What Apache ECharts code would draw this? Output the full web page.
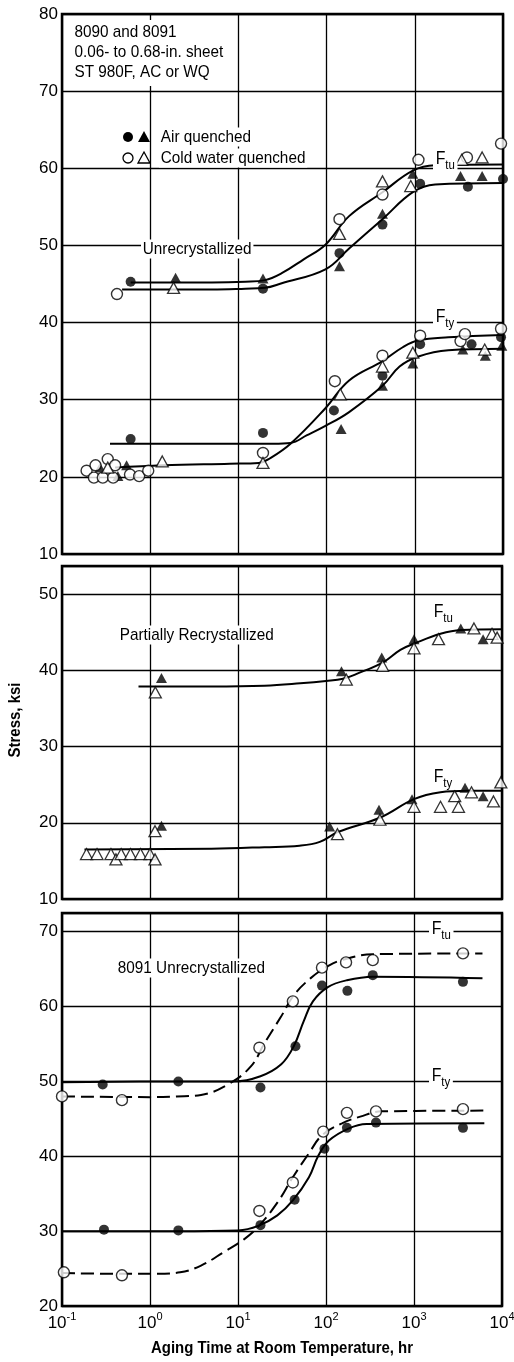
<!DOCTYPE html>
<html>
<head>
<meta charset="utf-8">
<title>8090/8091 natural aging</title>
<script src="https://cdn.jsdelivr.net/npm/echarts@6/dist/echarts.min.js"></script>
<style>
  html, body { margin: 0; padding: 0; background: #fff; }
  #chart { width: 514px; height: 1362px; }
</style>
</head>
<body>
<div id="chart"></div>
<script>
// ---- Data: aging time (hr) vs. stress (ksi) ----

// Panel A: 8090/8091 unrecrystallized sheet
const unrecFtuAirCircle   = [[0.6,45.3],[19,44.4],[140,49.0],[430,52.7],[1150,58.0],[4000,57.6],[10000,58.6]];
const unrecFtuAirTri      = [[1.94,45.8],[19,45.7],[140,47.3],[430,54.1],[950,59.3],[3300,59.0],[5800,59.0]];
const unrecFtuWaterCircle = [[0.42,43.7],[140,53.4],[430,56.6],[1100,61.1],[3900,61.4],[9500,63.2]];
const unrecFtuWaterTri    = [[1.84,44.5],[140,51.5],[430,58.3],[900,57.7],[3400,61.1],[5800,61.4]];
const unrecFtuCurveHigh   = [[0.6,45.2],[5,45.2],[12,45.3],[20,45.5],[31,46.4],[55,48.2],[97,50.1],[180,53.8],[430,56.9],[950,59.7],[1700,60.4],[10000,60.5]];
const unrecFtuCurveLow    = [[0.48,44.3],[5,44.3],[12,44.4],[20,44.5],[31,45.1],[97,46.9],[180,49.6],[430,53.4],[950,56.9],[1700,57.9],[10000,58.1]];

const unrecFtyAirCircle   = [[0.6,24.9],[19,25.7],[121,28.6],[430,33.1],[1150,37.2],[4400,37.2],[9500,38.1]];
const unrecFtyAirTri      = [[0.27,21.2],[0.43,20.1],[0.54,21.5],[146,26.2],[430,31.8],[950,34.7],[3500,36.5],[6300,35.7],[9700,37.0]];
const unrecFtyWaterCircle = [[0.19,20.8],[0.23,19.9],[0.24,21.5],[0.29,19.9],[0.33,22.3],[0.38,19.9],[0.4,21.5],[0.59,20.3],[0.75,20.1],[0.95,20.8],[19,23.1],[124,32.4],[430,35.7],[1150,38.3],[3300,37.6],[3700,38.5],[9500,39.2]];
const unrecFtyWaterTri    = [[0.33,21.2],[1.37,22.0],[19,21.8],[143,30.7],[430,34.3],[950,36.1],[6200,36.5]];
const unrecFtyCurveAir    = [[0.35,24.3],[10,24.3],[25,24.3],[39,24.4],[60,25.4],[97,26.6],[180,28.4],[430,31.8],[672,34.3],[1100,35.6],[2400,36.4],[10000,36.6]];
const unrecFtyCurveWater  = [[0.4,21.2],[1.4,21.5],[8,21.7],[17,21.8],[22,22.3],[39,24.3],[97,28.9],[180,32.5],[430,35.0],[730,36.8],[1100,37.7],[2400,38.1],[10000,38.4]];

// Panel B: partially recrystallized
const partFtuAirTri       = [[1.35,39.0],[150,39.9],[430,41.7],[1000,44.1],[3400,45.5],[6100,44.1]];
const partFtuWaterTri     = [[1.15,37.1],[170,38.8],[440,40.6],[1000,42.9],[1900,44.1],[4800,45.5],[7700,44.8],[8800,44.3]];
const partFtuCurve        = [[0.74,37.9],[5,37.9],[20,38.0],[51,38.3],[100,38.6],[156,38.9],[230,39.6],[450,41.1],[700,42.7],[1000,43.5],[2000,44.8],[3400,45.3],[10000,45.4]];
const partFtyAirTri       = [[1.35,19.6],[110,19.5],[400,21.7],[950,23.1],[3800,24.6],[6100,23.5]];
const partFtyWaterTri     = [[0.19,15.9],[0.25,15.9],[0.36,15.9],[0.41,15.2],[0.47,15.9],[0.6,15.9],[0.78,15.9],[1.0,15.9],[1.14,15.2],[1.14,18.9],[135,18.5],[410,20.4],[1000,22.1],[2000,22.1],[2900,23.5],[3200,22.1],[4500,24.0],[8000,22.8],[9700,25.3]];
const partFtyCurve        = [[0.18,16.5],[5,16.6],[20,16.8],[50,17.0],[85,17.5],[137,18.8],[416,20.7],[1000,23.1],[2000,24.0],[4000,24.2],[10000,24.2]];

// Panel C: 8091 unrecrystallized
const u8091FtuAir         = [[0.29,49.6],[2.1,50.0],[18,49.2],[45,54.7],[90,62.8],[175,62.1],[340,64.2],[3600,63.3]];
const u8091FtuWater       = [[0.1,48.0],[0.48,47.5],[17.5,54.5],[42,60.7],[90,65.2],[169,65.9],[340,66.2],[3600,67.1]];
const u8091FtyAir         = [[0.3,30.2],[2.1,30.1],[18,30.8],[44,34.2],[96,41.0],[173,43.8],[370,44.5],[3600,43.8]];
const u8091FtyWater       = [[0.105,24.5],[0.48,24.1],[17.5,32.7],[42,36.5],[93,43.3],[173,45.8],[370,46.0],[3600,46.3]];
const u8091FtuCurveAir    = [[0.1,49.9],[2,50.0],[9,50.0],[18,50.7],[31,52.3],[43,54.7],[56,58.1],[71,60.7],[105,62.6],[170,63.5],[340,64.0],[6000,63.8]];
const u8091FtuCurveWater  = [[0.1,48.0],[1,47.9],[2,48.0],[3.8,48.2],[7.7,49.6],[14,52.0],[20,55.1],[31,58.7],[43,61.5],[67,63.8],[105,65.4],[150,66.2],[340,67.0],[6000,67.1]];
const u8091FtyCurveAir    = [[0.1,30.0],[2,30.0],[10,30.1],[17,30.7],[28,32.1],[42,34.1],[64,37.2],[82,40.1],[108,42.1],[180,43.7],[290,44.3],[6300,44.4]];
const u8091FtyCurveWater  = [[0.1,24.4],[0.5,24.3],[1.2,24.3],[2.2,24.5],[3.8,25.4],[6.9,27.2],[11.7,28.9],[17,30.6],[28,33.8],[42,37.2],[64,40.4],[90,42.8],[152,44.4],[245,45.3],[430,46.0],[6300,46.1]];

// Axis ranges
const timeRange = [0.1, 10000];
const stressRanges = [[10, 80], [10, 53.7], [20, 72.5]];

// ---- Styling ----
const SANS = '"Liberation Sans",Arial,Helvetica,sans-serif';
const SQUEEZE = 0.9;   // condensed look for annotation text
const INK = '#000';

const MARKS = {
  airCircle:   { symbol: 'circle',   symbolSize: 10, itemStyle: { color: INK } },
  waterCircle: { symbol: 'circle',   symbolSize: 11, itemStyle: { color: '#fff', borderColor: INK, borderWidth: 1.4 } },
  airTri:      { symbol: 'triangle', symbolSize: [11, 10], itemStyle: { color: INK } },
  waterTri:    { symbol: 'triangle', symbolSize: [12, 11], itemStyle: { color: '#fff', borderColor: INK, borderWidth: 1.3 } }
};

function points(gridIndex, data, kind) {
  return Object.assign({
    type: 'scatter', xAxisIndex: gridIndex, yAxisIndex: gridIndex,
    data: data, z: 5, clip: false, silent: true
  }, JSON.parse(JSON.stringify(MARKS[kind])));
}

function curve(gridIndex, data, dashed) {
  return {
    type: 'line', xAxisIndex: gridIndex, yAxisIndex: gridIndex,
    data: data, smooth: 0.4, showSymbol: false, z: 3, silent: true,
    lineStyle: { color: INK, width: 2, type: dashed ? [13, 6] : 'solid' }
  };
}

const gridBoxes = [
  { left: 62, top: 14,  width: 441, height: 540 },
  { left: 62, top: 566, width: 440, height: 333 },
  { left: 62, top: 913, width: 440, height: 393 }
];

const chart = echarts.init(document.getElementById('chart'), null, { renderer: 'canvas' });

const option = {
  backgroundColor: '#fff',
  animation: false,
  grid: gridBoxes.map(g => Object.assign({
    show: true, borderColor: INK, borderWidth: 2.5, backgroundColor: 'transparent',
    containLabel: false, outerBoundsMode: 'none'
  }, g)),
  xAxis: [0, 1, 2].map(i => ({
    type: 'log', logBase: 10, gridIndex: i,
    min: timeRange[0], max: timeRange[1],
    axisLine: { show: false }, axisTick: { show: false },
    splitLine: { show: true, lineStyle: { color: INK, width: 1.3 } },
    axisLabel: {
      show: i === 2, margin: 5, color: INK,
      formatter: v => '{b|10}{e|' + Math.round(Math.log10(v)) + '}',
      rich: {
        b: { fontFamily: SANS, fontSize: 17, color: INK, lineHeight: 21, verticalAlign: 'bottom' },
        e: { fontFamily: SANS, fontSize: 11, color: INK, lineHeight: 11, verticalAlign: 'top' }
      }
    }
  })),
  yAxis: [0, 1, 2].map(i => ({
    type: 'value', gridIndex: i,
    min: stressRanges[i][0], max: stressRanges[i][1], interval: 10,
    axisLine: { show: false }, axisTick: { show: false },
    splitLine: { show: true, lineStyle: { color: INK, width: 1.3 } },
    axisLabel: {
      margin: 4, color: INK, fontFamily: SANS, fontSize: 17,
      formatter: v => (Math.abs(v % 10) < 1e-6 ? String(v) : '')
    }
  })),
  series: [
    // Panel A
    curve(0, unrecFtuCurveHigh), curve(0, unrecFtuCurveLow),
    curve(0, unrecFtyCurveAir), curve(0, unrecFtyCurveWater),
    points(0, unrecFtuAirCircle, 'airCircle'), points(0, unrecFtuAirTri, 'airTri'),
    points(0, unrecFtuWaterCircle, 'waterCircle'), points(0, unrecFtuWaterTri, 'waterTri'),
    points(0, unrecFtyAirCircle, 'airCircle'), points(0, unrecFtyAirTri, 'airTri'),
    points(0, unrecFtyWaterCircle, 'waterCircle'), points(0, unrecFtyWaterTri, 'waterTri'),
    // Panel B
    curve(1, partFtuCurve), curve(1, partFtyCurve),
    points(1, partFtuAirTri, 'airTri'), points(1, partFtuWaterTri, 'waterTri'),
    points(1, partFtyAirTri, 'airTri'), points(1, partFtyWaterTri, 'waterTri'),
    // Panel C
    curve(2, u8091FtuCurveAir), curve(2, u8091FtuCurveWater, true),
    curve(2, u8091FtyCurveAir), curve(2, u8091FtyCurveWater, true),
    points(2, u8091FtuAir, 'airCircle'), points(2, u8091FtuWater, 'waterCircle'),
    points(2, u8091FtyAir, 'airCircle'), points(2, u8091FtyWater, 'waterCircle')
  ],
  graphic: buildAnnotations()
};

function label(x, y, text, extra) {
  return {
    type: 'text', x: x, y: y, z: 100, silent: true, scaleX: SQUEEZE,
    style: Object.assign({
      text: text, font: '17px ' + SANS, fill: INK,
      align: 'left', verticalAlign: 'middle',
      backgroundColor: '#fff', padding: [1, 2]
    }, extra || {})
  };
}

function strengthTag(x, y, sub) {
  return {
    type: 'text', x: x, y: y, z: 100, silent: true, scaleX: 0.88,
    style: {
      text: '{f|F}{s|' + sub + '}',
      backgroundColor: '#fff', padding: [0, 3],
      rich: {
        f: { fontFamily: SANS, fontSize: 18, color: INK, lineHeight: 22, verticalAlign: 'top' },
        s: { fontFamily: SANS, fontSize: 13, color: INK, lineHeight: 13, verticalAlign: 'bottom' }
      }
    }
  };
}

function buildAnnotations() {
  const els = [];
  // Specimen description block
  els.push({
    type: 'text', x: 70, y: 20, z: 100, silent: true, scaleX: SQUEEZE,
    style: {
      text: '8090 and 8091\n0.06- to 0.68-in. sheet\nST 980F, AC or WQ',
      font: '17px ' + SANS, fill: INK, lineHeight: 20,
      align: 'left', verticalAlign: 'top',
      backgroundColor: '#fff', padding: [2, 5, 4, 5]
    }
  });
  // Key
  els.push({ type: 'circle', z: 101, silent: true, shape: { cx: 128, cy: 137, r: 5 }, style: { fill: INK } });
  els.push({ type: 'polygon', z: 101, silent: true, shape: { points: [[144, 131], [150, 142], [138, 142]] }, style: { fill: INK } });
  els.push({ type: 'circle', z: 101, silent: true, shape: { cx: 128, cy: 158, r: 5 }, style: { fill: '#fff', stroke: INK, lineWidth: 1.3 } });
  els.push({ type: 'polygon', z: 101, silent: true, shape: { points: [[144, 152], [150, 163], [138, 163]] }, style: { fill: '#fff', stroke: INK, lineWidth: 1.3 } });
  els.push(label(159, 137, 'Air quenched'));
  els.push(label(159, 158, 'Cold water quenched'));
  // Panel titles
  els.push(label(141, 249, 'Unrecrystallized'));
  els.push(label(118, 635, 'Partially Recrystallized'));
  els.push(label(116, 968, '8091 Unrecrystallized'));
  // Strength tags
  els.push(strengthTag(433, 150, 'tu'));
  els.push(strengthTag(433, 308, 'ty'));
  els.push(strengthTag(431, 603, 'tu'));
  els.push(strengthTag(431, 768, 'ty'));
  els.push(strengthTag(429, 920, 'tu'));
  els.push(strengthTag(429, 1067, 'ty'));
  // Shared axis titles
  els.push({
    type: 'text', x: 15, y: 720, rotation: Math.PI / 2, z: 100, silent: true, scaleX: 0.88,
    style: { text: 'Stress, ksi', font: 'bold 17px ' + SANS, fill: INK, align: 'center', verticalAlign: 'middle' }
  });
  els.push({
    type: 'text', x: 282, y: 1348, z: 100, silent: true, scaleX: 0.88,
    style: { text: 'Aging Time at Room Temperature, hr', font: 'bold 17px ' + SANS, fill: INK, align: 'center', verticalAlign: 'middle' }
  });
  return els;
}

chart.setOption(option);
</script>
</body>
</html>
